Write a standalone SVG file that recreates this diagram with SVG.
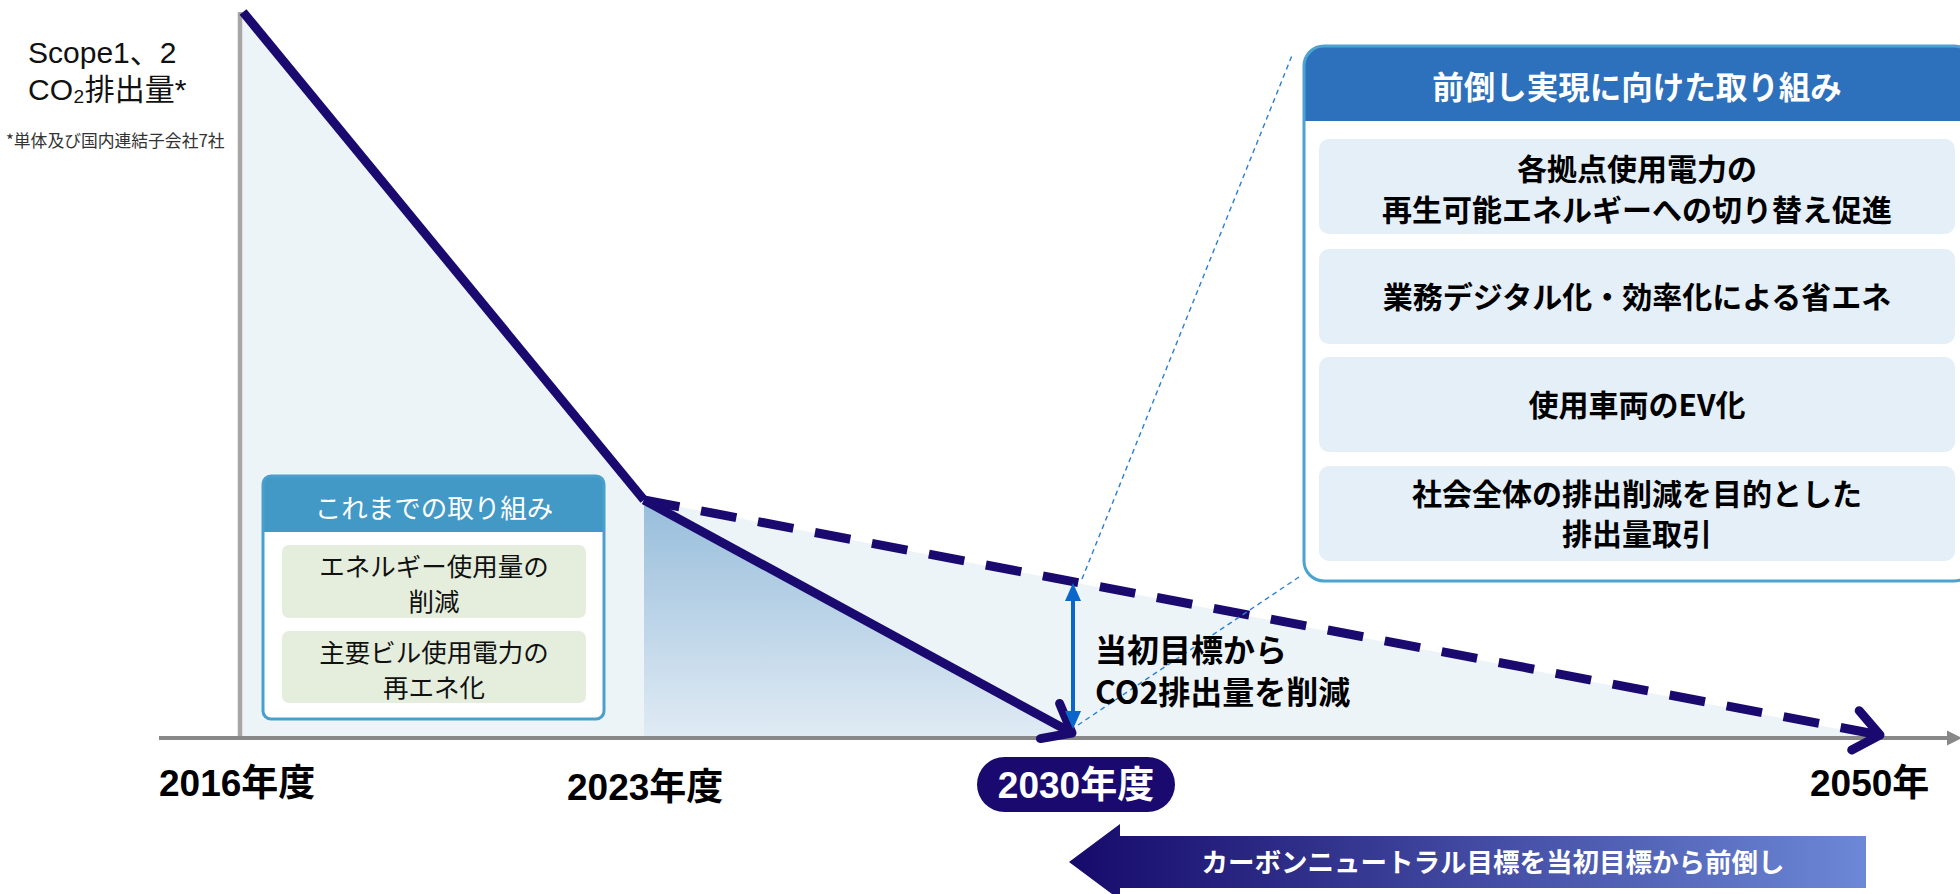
<svg xmlns="http://www.w3.org/2000/svg" width="1960" height="894" viewBox="0 0 1960 894">
  <defs>
    <style>
      .jp { font-family: "Noto Sans CJK JP", "Noto Sans", sans-serif; }
      .ttl { font-family: "Liberation Sans", "Noto Sans CJK JP", sans-serif; font-size: 30px; fill: #111; }
      .yr { font-family: "Liberation Sans", "Noto Sans CJK JP", sans-serif; font-weight: bold; font-size: 37px; }
      .item { font-family: "Noto Sans CJK JP", sans-serif; font-weight: bold; font-size: 30px; fill: #000; text-anchor: middle; }
      .litem { font-family: "Noto Sans CJK JP", sans-serif; font-size: 25.5px; fill: #111; text-anchor: middle; }
      .navy { stroke: #1a0a6f; stroke-width: 9; fill: none; }
      .callout { stroke: #2a7fd4; stroke-width: 1.4; stroke-dasharray: 5 4; fill: none; }
    </style>
    <linearGradient id="gradFill" x1="0" y1="500" x2="0" y2="737" gradientUnits="userSpaceOnUse">
      <stop offset="0" stop-color="#97bddb"/>
      <stop offset="1" stop-color="#e0ebf4"/>
    </linearGradient>
    <linearGradient id="gradArrow" x1="1069" y1="0" x2="1866" y2="0" gradientUnits="userSpaceOnUse">
      <stop offset="0" stop-color="#160a6a"/>
      <stop offset="1" stop-color="#6c88d6"/>
    </linearGradient>
    <marker id="chev" markerUnits="userSpaceOnUse" viewBox="-40 -30 50 60" markerWidth="50" markerHeight="60" refX="0" refY="0" orient="auto" overflow="visible">
      <path d="M-25,-20 L0,0 L-25,20" fill="none" stroke="#1a0a6f" stroke-width="9" stroke-linecap="round" stroke-linejoin="round" stroke-dasharray="none"/>
    </marker>
    <marker id="tri" markerUnits="userSpaceOnUse" viewBox="-10 -10 25 20" markerWidth="25" markerHeight="20" refX="0" refY="0" orient="auto-start-reverse" overflow="visible">
      <path d="M12,0 L-6,-8 L-6,8 Z" fill="#0b66c9"/>
    </marker>
  </defs>

  <rect width="1960" height="894" fill="#ffffff"/>

  <!-- chart areas -->
  <g id="chart-area">
    <polygon points="242,12 644,500 1880,737 242,737" fill="#edf4f8"/>
    <polygon points="644,500 1072,733 1072,737 644,737" fill="url(#gradFill)"/>
  </g>

  <!-- axes -->
  <g id="axes">
    <line x1="240" y1="12" x2="240" y2="737" stroke="#aaa6a6" stroke-width="4.5"/>
    <line x1="159" y1="738" x2="1950" y2="738" stroke="#888888" stroke-width="4"/>
    <polygon points="1947,730.5 1962,738 1947,745.5" fill="#888888"/>
  </g>

  <!-- connectors -->
  <g id="connectors">
    <line x1="243" y1="12" x2="644" y2="500" class="navy"/>
    <line x1="644" y1="500" x2="1072" y2="733" class="navy" marker-end="url(#chev)"/>
    <line x1="644" y1="500" x2="1880" y2="735" class="navy" stroke-dasharray="36 22" marker-end="url(#chev)"/>
    <line x1="1073" y1="595" x2="1073" y2="717" stroke="#0b66c9" stroke-width="4" marker-start="url(#tri)" marker-end="url(#tri)"/>
    <line x1="1082" y1="579" x2="1293" y2="53" class="callout"/>
    <line x1="1078" y1="725" x2="1302" y2="575" class="callout"/>
  </g>

  <!-- y-axis title -->
  <g id="yaxis-title">
    <text x="28" y="63" class="ttl">Scope1、2</text>
    <text x="28" y="100" class="ttl">CO₂排出量*</text>
    <text x="6" y="147" class="jp" font-size="16.8" fill="#333">*単体及び国内連結子会社7社</text>
  </g>

  <!-- year labels -->
  <g id="label-2016"><text x="159" y="796" class="yr" fill="#000">2016年度</text></g>
  <g id="label-2023"><text x="567" y="800" class="yr" fill="#000">2023年度</text></g>
  <g id="label-2030">
    <rect x="977" y="757" width="198" height="55" rx="27.5" fill="#1a0a6f"/>
    <text x="1076" y="798" class="yr" fill="#ffffff" text-anchor="middle">2030年度</text>
  </g>
  <g id="label-2050"><text x="1810" y="796" class="yr" fill="#000">2050年</text></g>

  <!-- reduction label -->
  <g id="reduction-label">
    <text x="1095" y="662" class="jp" font-size="32" font-weight="bold" fill="#000">当初目標から</text>
    <text x="1095" y="704" class="jp" font-size="32" font-weight="bold" fill="#000">CO2排出量を削減</text>
  </g>

  <!-- past initiatives box -->
  <g id="past-box">
    <rect x="263" y="476" width="341" height="243" rx="8" fill="#ffffff"/>
    <path d="M263,532 V484 Q263,476 271,476 H596 Q604,476 604,484 V532 Z" fill="#4299c6"/>
    <rect x="263" y="476" width="341" height="243" rx="8" fill="none" stroke="#4a9fcc" stroke-width="3"/>
    <text x="434" y="518" class="jp" font-size="26.5" fill="#ffffff" text-anchor="middle">これまでの取り組み</text>
    <rect x="282" y="545" width="304" height="73" rx="7" fill="#e5eedd"/>
    <text x="434" y="576" class="litem">エネルギー使用量の</text>
    <text x="434" y="611" class="litem">削減</text>
    <rect x="282" y="631" width="304" height="72" rx="7" fill="#e5eedd"/>
    <text x="434" y="662" class="litem">主要ビル使用電力の</text>
    <text x="434" y="697" class="litem">再エネ化</text>
  </g>

  <!-- future initiatives box -->
  <g id="future-box">
    <rect x="1304" y="46" width="670" height="535" rx="20" fill="#ffffff"/>
    <path d="M1304,121 V66 Q1304,46 1324,46 H1954 Q1974,46 1974,66 V121 Z" fill="#2d70bb"/>
    <rect x="1304" y="46" width="670" height="535" rx="20" fill="none" stroke="#4ba3cf" stroke-width="3"/>
    <text x="1637" y="99" class="jp" font-size="31.5" font-weight="bold" fill="#ffffff" text-anchor="middle">前倒し実現に向けた取り組み</text>
    <rect x="1319" y="139" width="636" height="95" rx="10" fill="#e4eff7"/>
    <text x="1637" y="180" class="item">各拠点使用電力の</text>
    <text x="1637" y="221" class="item">再生可能エネルギーへの切り替え促進</text>
    <rect x="1319" y="249" width="636" height="95" rx="10" fill="#e4eff7"/>
    <text x="1637" y="308" class="item">業務デジタル化・効率化による省エネ</text>
    <rect x="1319" y="357" width="636" height="95" rx="10" fill="#e4eff7"/>
    <text x="1637" y="416" class="item">使用車両のEV化</text>
    <rect x="1319" y="466" width="636" height="95" rx="10" fill="#e4eff7"/>
    <text x="1637" y="505" class="item">社会全体の排出削減を目的とした</text>
    <text x="1637" y="545" class="item">排出量取引</text>
  </g>

  <!-- bottom arrow -->
  <g id="bottom-arrow">
    <polygon points="1069,862 1120,824 1120,836 1866,836 1866,888 1120,888 1120,900" fill="url(#gradArrow)"/>
    <text x="1493" y="872" class="jp" font-size="26.5" font-weight="bold" fill="#ffffff" text-anchor="middle">カーボンニュートラル目標を当初目標から前倒し</text>
  </g>
</svg>
